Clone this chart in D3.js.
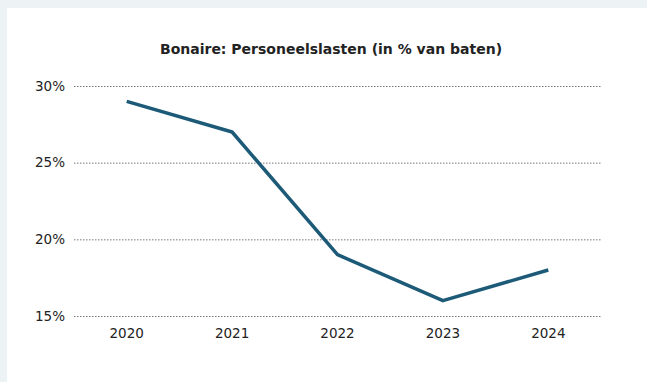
<!DOCTYPE html>
<html>
<head>
<meta charset="utf-8">
<script src="https://cdn.jsdelivr.net/npm/d3@7"></script>
<style>
  html, body { margin: 0; padding: 0; background: #edf2f5; }
  svg { display: block; }
  text { font-family: "DejaVu Sans", sans-serif; fill: #222; }
</style>
</head>
<body>
<svg id="chart" width="647" height="382"></svg>
<script>
const years = ["2020", "2021", "2022", "2023", "2024"];
const personeelslasten = [29, 27, 19, 16, 18];
const yTicks = [15, 20, 25, 30];
const title = "Bonaire: Personeelslasten (in % van baten)";

const svg = d3.select("#chart");
const W = 647, H = 382;

// white card
svg.append("rect").attr("x", 7).attr("y", 8).attr("width", W - 7).attr("height", H - 8).attr("fill", "#fff");

const x = d3.scaleBand().domain(years).range([74, 601]);
const y = d3.scaleLinear().domain([15, 30]).range([316, 86]);

svg.append("text")
  .attr("x", 331).attr("y", 54)
  .attr("text-anchor", "middle")
  .style("font-weight", "bold").style("font-size", "14px")
  .text(title);

// horizontal dotted grid with y labels
const yAxis = d3.axisLeft(y).tickValues(yTicks).tickFormat(d => d + "%")
  .tickSize(-(601 - 74)).tickPadding(8);
const gy = svg.append("g").attr("transform", "translate(74,0)").call(yAxis);
gy.select(".domain").remove();
gy.selectAll(".tick line").attr("stroke", "#777").attr("stroke-dasharray", "1.5,1.5").attr("stroke-width", 1);
gy.selectAll(".tick text").style("font-size", "13.5px").attr("x", -9).attr("fill", "#222");

// year labels
const xAxis = d3.axisBottom(x).tickSize(0).tickPadding(12);
const gx = svg.append("g").attr("transform", "translate(0,316)").call(xAxis);
gx.select(".domain").remove();
gx.selectAll(".tick text").style("font-size", "13.5px").attr("fill", "#222");

const line = d3.line()
  .x((d, i) => x(years[i]) + x.bandwidth() / 2)
  .y(d => y(d));

svg.append("path")
  .datum(personeelslasten)
  .attr("d", line)
  .attr("fill", "none")
  .attr("stroke", "#1c5a78")
  .attr("stroke-width", 3.5)
  .attr("stroke-linejoin", "round");
</script>
</body>
</html>
